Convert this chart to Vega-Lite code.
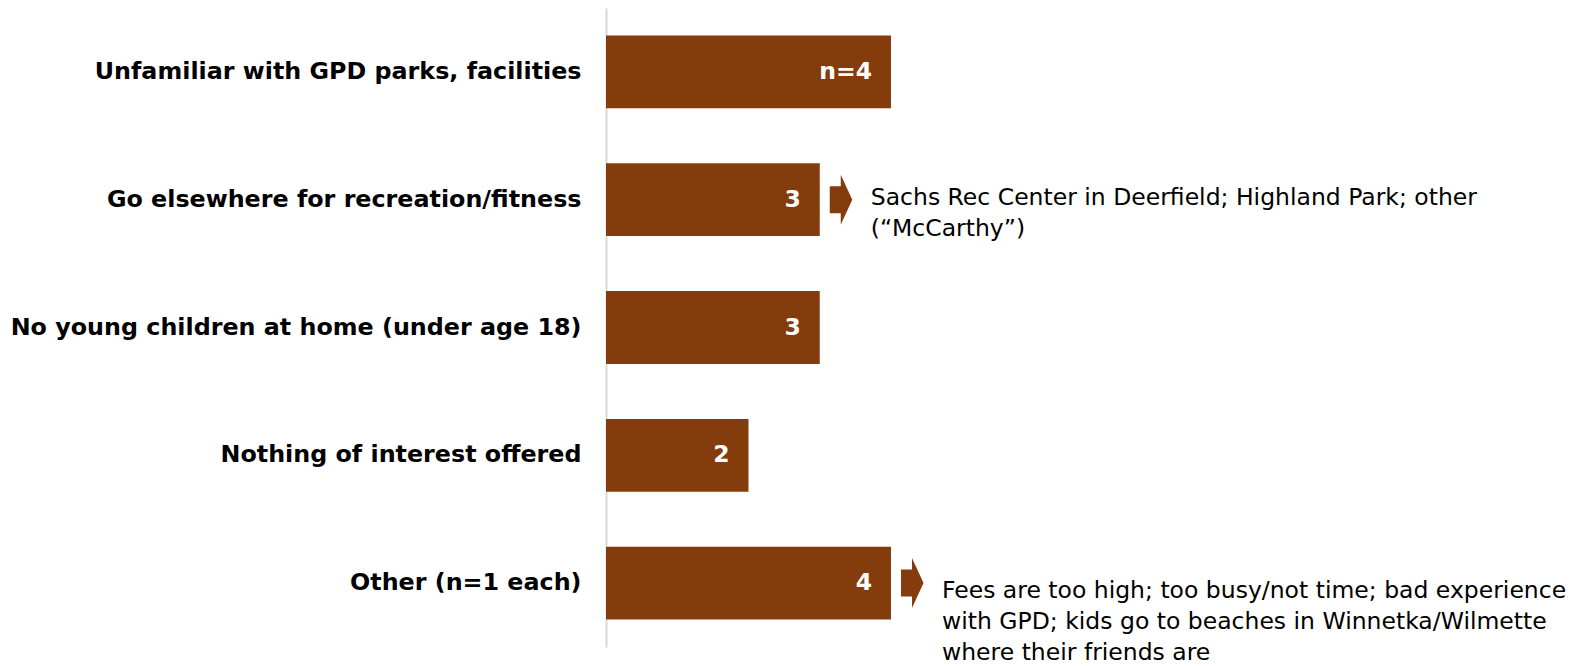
{
  "$schema": "https://vega.github.io/schema/vega-lite/v6.json",
  "width": 974,
  "height": 639,
  "autosize": {"type": "none"},
  "padding": {"left": 606, "top": 8, "right": 7, "bottom": 19},
  "background": "white",
  "config": {"view": {"stroke": null}, "font": "DejaVu Sans"},
  "data": {
    "values": [
      {"reason": "Unfamiliar with GPD parks, facilities", "count": 4, "label": "n=4", "note": null},
      {"reason": "Go elsewhere for recreation/fitness", "count": 3, "label": "3", "note": ["Sachs Rec Center in Deerfield; Highland Park; other", "(“McCarthy”)"]},
      {"reason": "No young children at home (under age 18)", "count": 3, "label": "3", "note": null},
      {"reason": "Nothing of interest offered", "count": 2, "label": "2", "note": null},
      {"reason": "Other (n=1 each)", "count": 4, "label": "4", "note": ["Fees are too high; too busy/not time; bad experience", "with GPD; kids go to beaches in Winnetka/Wilmette", "where their friends are"]}
    ]
  },
  "encoding": {
    "y": {
      "field": "reason", "type": "nominal", "sort": null,
      "scale": {"paddingInner": 0.43, "paddingOuter": 0.215},
      "axis": {
        "title": null, "ticks": false, "labelPadding": 25,
        "labelFontSize": 23.8, "labelFontWeight": "bold", "labelColor": "black",
        "labelFont": "DejaVu Sans", "labelLimit": 0,
        "domainColor": "#d9d9d9", "domainWidth": 2
      }
    },
    "x": {
      "field": "count", "type": "quantitative",
      "scale": {"domain": [0, 13.67], "nice": false, "zero": true},
      "axis": null
    }
  },
  "layer": [
    {"mark": {"type": "bar", "color": "#843C0C"}},
    {
      "mark": {"type": "text", "align": "right", "baseline": "middle", "dx": -19, "fontSize": 23.5, "fontWeight": "bold", "color": "white"},
      "encoding": {"text": {"field": "label"}}
    },
    {
      "transform": [{"filter": "datum.note != null"}],
      "mark": {
        "type": "point", "filled": true, "color": "#843C0C", "opacity": 1, "size": 2500, "strokeWidth": 0,
        "shape": "M-0.44,-0.54 L0,-0.54 L0,-1 L0.46,0 L0,1 L0,0.54 L-0.44,0.54 Z"
      },
      "encoding": {"xOffset": {"value": 21}}
    },
    {
      "transform": [{"filter": "datum.reason == 'Go elsewhere for recreation/fitness'"}],
      "mark": {"type": "text", "align": "left", "baseline": "top", "dx": 51, "dy": -14, "fontSize": 23.5, "lineHeight": 31, "color": "black"},
      "encoding": {"text": {"field": "note"}}
    },
    {
      "transform": [{"filter": "datum.reason == 'Other (n=1 each)'"}],
      "mark": {"type": "text", "align": "left", "baseline": "top", "dx": 51, "dy": -4, "fontSize": 23.5, "lineHeight": 31, "color": "black"},
      "encoding": {"text": {"field": "note"}}
    }
  ]
}
